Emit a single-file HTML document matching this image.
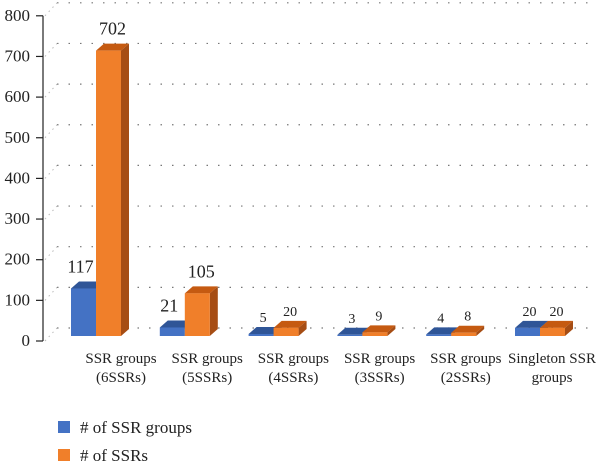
<!DOCTYPE html>
<html><head><meta charset="utf-8"><style>
body{margin:0;background:#fff;}
svg{display:block;font-family:"Liberation Serif",serif;}
</style></head><body>
<svg id="chart" width="600" height="471" viewBox="0 0 600 471"></svg>
<script>
const categories=[["SSR groups","(6SSRs)"],["SSR groups","(5SSRs)"],["SSR groups","(4SSRs)"],["SSR groups","(3SSRs)"],["SSR groups","(2SSRs)"],["Singleton SSR","groups"]];
const groupValues=[117,21,5,3,4,20];
const ssrValues=[702,105,20,9,8,20];
const yTicks=[0,100,200,300,400,500,600,700,800];
const svg=document.getElementById('chart');
const NS='http://www.w3.org/2000/svg';
const base=336, scale=0.4065, dx=8, dy=7;
function y(v){return base-v*scale;}
function cx(i){return 96+i*88.8;}
function lx(i){return 121+i*86.2;}
function mk(t,a,p){const e=document.createElementNS(NS,t);for(const k in a)e.setAttribute(k,a[k]);(p||svg).appendChild(e);return e;}
yTicks.forEach(v=>{
 const g=mk('line',{x1:57,x2:590,y1:y(v)-dy-1,y2:y(v)-dy-1,stroke:'#777','stroke-width':1.2,'stroke-dasharray':'1.5 10'});
 
 
 const d=mk('line',{x1:45,x2:57,y1:y(v)+5,y2:y(v)-dy-1,stroke:'#bbb','stroke-width':1,'stroke-dasharray':'1.5 4'});
 
 
 const t=mk('text',{x:30,y:y(v)+10,'text-anchor':'end','font-size':17,fill:'#222'});
 t.textContent=v;
 
 
 const tk=mk('line',{x1:36,x2:43,y1:y(v)+5,y2:y(v)+5,stroke:'#222','stroke-width':1.2});
 
 
});
const ax=mk('line',{x1:43,x2:43,y1:y(800)+5,y2:y(0)+5,stroke:'#222','stroke-width':1.2});


function bar(x,w,v,front,top,side,name){
 const g=mk('g',{});
 
 
 const yt=y(v);
 mk('polygon',{points:`${x},${yt} ${x+dx},${yt-dy} ${x+w+dx},${yt-dy} ${x+w},${yt}`,fill:top},g);
 mk('polygon',{points:`${x+w},${yt} ${x+w+dx},${yt-dy} ${x+w+dx},${base-dy} ${x+w},${base}`,fill:side},g);
 mk('rect',{x:x,y:yt,width:w,height:base-yt,fill:front},g);
 return yt;
}
categories.forEach((c,i)=>{
 const c0=cx(i), w=25;
 const yb=bar(c0-w,w,groupValues[i],'#4472c4','#2f5597','#2f5597','bar-ssr-groups');
 const yo=bar(c0,w,ssrValues[i],'#f07f2a','#c55a11','#a64d14','bar-ssrs');
 const big=i<2;
 const fs=big?18:14;
 const l1=mk('text',{x:c0-w/2+(big?-3:2),y:(big?yb-16:yb-12),'text-anchor':'middle','font-size':fs,fill:'#222'});
 l1.textContent=groupValues[i];
 
 
 const l2=mk('text',{x:c0+w/2+4,y:(big?yo-16:yo-12),'text-anchor':'middle','font-size':fs,fill:'#222'});
 l2.textContent=ssrValues[i];
 
 
 c.forEach((line,j)=>{
  const t=mk('text',{x:lx(i),y:363+j*19,'text-anchor':'middle','font-size':15,fill:'#222'});
  t.textContent=line;
  
  
 });
});
[['#4472c4','# of SSR groups',421],['#f07f2a','# of SSRs',449]].forEach(([col,txt,yy])=>{
 const g=mk('g',{});
 
 
 mk('rect',{x:58,y:yy,width:12,height:12,fill:col},g);
 const t=mk('text',{x:80,y:yy+12,'font-size':17,fill:'#222'},g);
 t.textContent=txt;
});
</script>
</body></html>
